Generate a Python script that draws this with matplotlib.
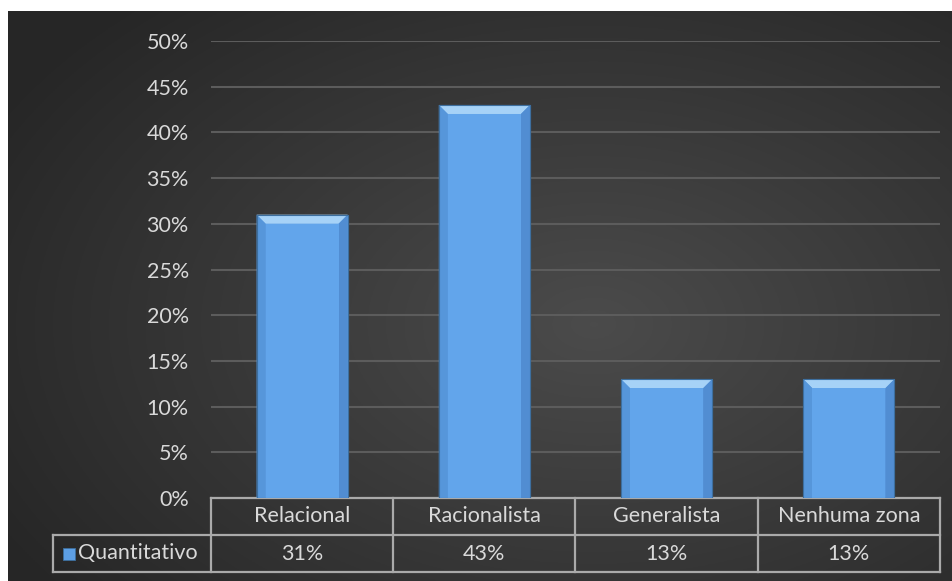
import numpy as np
import matplotlib
matplotlib.use("AGG")
import matplotlib.pyplot as plt
from matplotlib.patches import Polygon, Rectangle

# data
categories = ["Relacional", "Racionalista", "Generalista", "Nenhuma zona"]
values = [0.31, 0.43, 0.13, 0.13]
value_labels = ["31%", "43%", "13%", "13%"]
series_name = "Quantitativo"
yticks = [0, 0.05, 0.10, 0.15, 0.20, 0.25, 0.30, 0.35, 0.40, 0.45, 0.50]

W, H = 953, 581
txt_color = "#d9d9d9"
line_color = "#aaaaaa"
font = "Lato"
fs = 15.5

fig = plt.figure(figsize=(W / 100, H / 100), dpi=100)
fig.patch.set_facecolor("white")

# dark radial background
bg = fig.add_axes([8 / W, 0, 1 - 8 / W, (H - 11) / H])
bg.set_axis_off()
yy, xx = np.mgrid[0:1:300j, 0:1:500j]
r = np.sqrt(((xx - 0.62) / 0.8) ** 2 + ((yy - 0.55) / 0.85) ** 2)
shade = np.clip(0.295 - 0.16 * r, 0.15, 0.30)
bg.imshow(np.dstack([shade, shade, shade]), aspect="auto", extent=[0, 1, 0, 1])
bg.set_xlim(0, 1)
bg.set_ylim(0, 1)

# plot area
px0, px1, py0, py_top = 211, 940, 498, 41
ax = fig.add_axes([px0 / W, (H - py0) / H, (px1 - px0) / W, (py0 - py_top) / H])
ax.patch.set_alpha(0)
ax.set_xlim(-0.5, len(categories) - 0.5)
ax.set_ylim(0, 0.5)
for s in ax.spines.values():
    s.set_visible(False)
ax.set_xticks([])
ax.set_yticks(yticks)
ax.set_yticklabels([f"{int(round(t * 100))}%" for t in yticks], fontsize=fs,
                   color=txt_color, family=font)
ax.tick_params(axis="y", length=0, pad=16)
ax.grid(axis="y", color="#5c5c5c", linewidth=1.5)
ax.set_axisbelow(True)

bars = ax.bar(range(len(categories)), values, width=0.5, color="#5d9fe5",
              edgecolor="#3d6f9f", linewidth=0.8, zorder=3)

# bevel on each bar, sizes in pixels converted to data units
xpp = (len(categories)) / (px1 - px0)
ypp = 0.5 / (py0 - py_top)
d = 9
for b in bars:
    x0, w, h = b.get_x(), b.get_width(), b.get_height()
    x1 = x0 + w
    dx, dy = d * xpp, d * ypp
    ax.add_patch(Polygon([(x0, h), (x1, h), (x1 - dx, h - dy), (x0 + dx, h - dy)],
                         closed=True, facecolor="#a6d2f7", edgecolor="none", zorder=4))
    ax.add_patch(Polygon([(x0, h), (x0 + dx, h - dy), (x0 + dx, 0), (x0, 0)],
                         closed=True, facecolor="#5696da", edgecolor="none", zorder=4))
    ax.add_patch(Polygon([(x1, h), (x1 - dx, h - dy), (x1 - dx, 0), (x1, 0)],
                         closed=True, facecolor="#518dd2", edgecolor="none", zorder=4))
    ax.add_patch(Rectangle((x0 + dx, 0), w - 2 * dx, h - dy, facecolor="#62a5eb",
                           edgecolor="none", zorder=4))
    ax.add_patch(Rectangle((x0, 0), w, h, facecolor="none", edgecolor="#3d6f9f",
                           linewidth=0.8, zorder=5))

# data table under the plot
row_h = 37 / (py0 - py_top)
leg_x = (53 - px0) / (px1 - px0)
n = len(categories)
lkw = dict(color=line_color, linewidth=1.6, transform=ax.transAxes, clip_on=False)
ax.plot([0, 1], [0, 0], **lkw)
ax.plot([leg_x, 1], [-row_h, -row_h], **lkw)
ax.plot([leg_x, 1], [-2 * row_h, -2 * row_h], **lkw)
ax.plot([leg_x, leg_x], [-row_h, -2 * row_h], **lkw)
for i in range(n + 1):
    ax.plot([i / n, i / n], [0, -2 * row_h], **lkw)

tkw = dict(color=txt_color, fontsize=fs, family=font, ha="center", va="center",
           transform=ax.transAxes)
for i, (c, v) in enumerate(zip(categories, value_labels)):
    ax.text((i + 0.5) / n, -0.5 * row_h, c, **tkw)
    ax.text((i + 0.5) / n, -1.5 * row_h, v, **tkw)

# legend key in the table
key_w = 12 / (px1 - px0)
key_h = 12 / (py0 - py_top)
kx = (63 - px0) / (px1 - px0)
ax.add_patch(Rectangle((kx, -1.5 * row_h - key_h / 2), key_w, key_h,
                       facecolor="#5d9fe5", edgecolor="#3d6f9f", linewidth=0.6,
                       transform=ax.transAxes, clip_on=False, zorder=5))
ax.text(kx + key_w + 3 / (px1 - px0), -1.5 * row_h, series_name, color=txt_color,
        fontsize=fs, family=font, ha="left", va="center", transform=ax.transAxes)

fig.savefig("out.png", dpi=100, facecolor=fig.get_facecolor())
